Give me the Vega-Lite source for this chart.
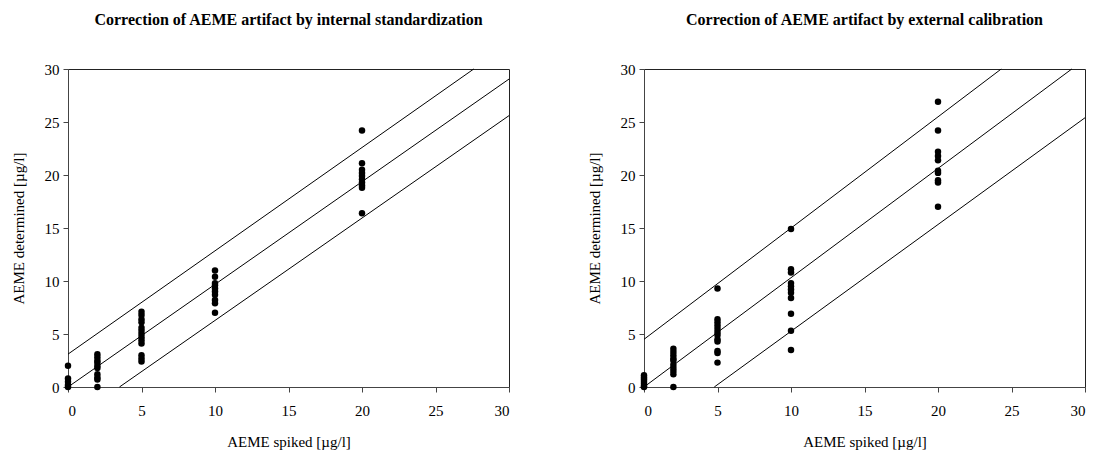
{
  "$schema": "https://vega.github.io/schema/vega-lite/v6.json",
  "background": "white",
  "padding": {"left": 10, "top": 11, "right": 8, "bottom": 4},
  "spacing": 74,
  "config": {
    "font": "Liberation Serif",
    "view": {"stroke": "#222", "strokeWidth": 1},
    "axis": {
      "grid": false,
      "domainColor": "#444",
      "tickColor": "#444",
      "tickSize": 5,
      "labelFont": "Liberation Serif",
      "labelFontSize": 15,
      "labelColor": "black",
      "titleFont": "Liberation Serif",
      "titleFontSize": 15,
      "titleFontWeight": "normal",
      "titleColor": "black"
    },
    "title": {"font": "Liberation Serif", "fontSize": 16, "fontWeight": "bold", "color": "black", "offset": 34}
  },
  "datasets": {
    "points": [
      {"panel": "internal", "spiked": 0, "determined": 2.0},
      {"panel": "internal", "spiked": 0, "determined": 0.8},
      {"panel": "internal", "spiked": 0, "determined": 0.5},
      {"panel": "internal", "spiked": 0, "determined": 0.2},
      {"panel": "internal", "spiked": 0, "determined": 0.0},
      {"panel": "internal", "spiked": 2, "determined": 3.1},
      {"panel": "internal", "spiked": 2, "determined": 2.8},
      {"panel": "internal", "spiked": 2, "determined": 2.5},
      {"panel": "internal", "spiked": 2, "determined": 2.3},
      {"panel": "internal", "spiked": 2, "determined": 2.0},
      {"panel": "internal", "spiked": 2, "determined": 1.8},
      {"panel": "internal", "spiked": 2, "determined": 1.2},
      {"panel": "internal", "spiked": 2, "determined": 0.9},
      {"panel": "internal", "spiked": 2, "determined": 0.7},
      {"panel": "internal", "spiked": 2, "determined": 0.0},
      {"panel": "internal", "spiked": 5, "determined": 7.1},
      {"panel": "internal", "spiked": 5, "determined": 6.8},
      {"panel": "internal", "spiked": 5, "determined": 6.4},
      {"panel": "internal", "spiked": 5, "determined": 6.1},
      {"panel": "internal", "spiked": 5, "determined": 5.6},
      {"panel": "internal", "spiked": 5, "determined": 5.3},
      {"panel": "internal", "spiked": 5, "determined": 5.0},
      {"panel": "internal", "spiked": 5, "determined": 4.7},
      {"panel": "internal", "spiked": 5, "determined": 4.4},
      {"panel": "internal", "spiked": 5, "determined": 4.1},
      {"panel": "internal", "spiked": 5, "determined": 3.0},
      {"panel": "internal", "spiked": 5, "determined": 2.7},
      {"panel": "internal", "spiked": 5, "determined": 2.4},
      {"panel": "internal", "spiked": 10, "determined": 11.0},
      {"panel": "internal", "spiked": 10, "determined": 10.4},
      {"panel": "internal", "spiked": 10, "determined": 9.8},
      {"panel": "internal", "spiked": 10, "determined": 9.6},
      {"panel": "internal", "spiked": 10, "determined": 9.3},
      {"panel": "internal", "spiked": 10, "determined": 9.0},
      {"panel": "internal", "spiked": 10, "determined": 8.7},
      {"panel": "internal", "spiked": 10, "determined": 8.2},
      {"panel": "internal", "spiked": 10, "determined": 7.9},
      {"panel": "internal", "spiked": 10, "determined": 7.0},
      {"panel": "internal", "spiked": 20, "determined": 24.2},
      {"panel": "internal", "spiked": 20, "determined": 21.1},
      {"panel": "internal", "spiked": 20, "determined": 20.5},
      {"panel": "internal", "spiked": 20, "determined": 20.2},
      {"panel": "internal", "spiked": 20, "determined": 19.9},
      {"panel": "internal", "spiked": 20, "determined": 19.6},
      {"panel": "internal", "spiked": 20, "determined": 19.3},
      {"panel": "internal", "spiked": 20, "determined": 19.0},
      {"panel": "internal", "spiked": 20, "determined": 18.8},
      {"panel": "internal", "spiked": 20, "determined": 16.4},
      {"panel": "external", "spiked": 0, "determined": 1.1},
      {"panel": "external", "spiked": 0, "determined": 0.9},
      {"panel": "external", "spiked": 0, "determined": 0.7},
      {"panel": "external", "spiked": 0, "determined": 0.5},
      {"panel": "external", "spiked": 0, "determined": 0.3},
      {"panel": "external", "spiked": 0, "determined": 0.1},
      {"panel": "external", "spiked": 0, "determined": 0.0},
      {"panel": "external", "spiked": 2, "determined": 3.6},
      {"panel": "external", "spiked": 2, "determined": 3.3},
      {"panel": "external", "spiked": 2, "determined": 3.0},
      {"panel": "external", "spiked": 2, "determined": 2.7},
      {"panel": "external", "spiked": 2, "determined": 2.5},
      {"panel": "external", "spiked": 2, "determined": 2.1},
      {"panel": "external", "spiked": 2, "determined": 1.8},
      {"panel": "external", "spiked": 2, "determined": 1.5},
      {"panel": "external", "spiked": 2, "determined": 1.2},
      {"panel": "external", "spiked": 2, "determined": 0.0},
      {"panel": "external", "spiked": 5, "determined": 9.3},
      {"panel": "external", "spiked": 5, "determined": 6.4},
      {"panel": "external", "spiked": 5, "determined": 6.1},
      {"panel": "external", "spiked": 5, "determined": 5.8},
      {"panel": "external", "spiked": 5, "determined": 5.5},
      {"panel": "external", "spiked": 5, "determined": 5.2},
      {"panel": "external", "spiked": 5, "determined": 4.9},
      {"panel": "external", "spiked": 5, "determined": 4.5},
      {"panel": "external", "spiked": 5, "determined": 4.3},
      {"panel": "external", "spiked": 5, "determined": 3.4},
      {"panel": "external", "spiked": 5, "determined": 3.2},
      {"panel": "external", "spiked": 5, "determined": 2.3},
      {"panel": "external", "spiked": 10, "determined": 14.9},
      {"panel": "external", "spiked": 10, "determined": 11.1},
      {"panel": "external", "spiked": 10, "determined": 10.8},
      {"panel": "external", "spiked": 10, "determined": 9.8},
      {"panel": "external", "spiked": 10, "determined": 9.5},
      {"panel": "external", "spiked": 10, "determined": 9.2},
      {"panel": "external", "spiked": 10, "determined": 8.9},
      {"panel": "external", "spiked": 10, "determined": 8.4},
      {"panel": "external", "spiked": 10, "determined": 6.9},
      {"panel": "external", "spiked": 10, "determined": 5.3},
      {"panel": "external", "spiked": 10, "determined": 3.5},
      {"panel": "external", "spiked": 20, "determined": 26.9},
      {"panel": "external", "spiked": 20, "determined": 24.2},
      {"panel": "external", "spiked": 20, "determined": 22.2},
      {"panel": "external", "spiked": 20, "determined": 21.8},
      {"panel": "external", "spiked": 20, "determined": 21.4},
      {"panel": "external", "spiked": 20, "determined": 20.4},
      {"panel": "external", "spiked": 20, "determined": 20.2},
      {"panel": "external", "spiked": 20, "determined": 19.5},
      {"panel": "external", "spiked": 20, "determined": 19.3},
      {"panel": "external", "spiked": 20, "determined": 17.0}
    ],
    "lines": [
      {"panel": "internal", "line": "upper", "spiked": 0, "determined": 3.1},
      {"panel": "internal", "line": "upper", "spiked": 27.6, "determined": 30},
      {"panel": "internal", "line": "middle", "spiked": 0, "determined": 0},
      {"panel": "internal", "line": "middle", "spiked": 30, "determined": 29.05},
      {"panel": "internal", "line": "lower", "spiked": 3.5, "determined": 0},
      {"panel": "internal", "line": "lower", "spiked": 30, "determined": 25.6},
      {"panel": "external", "line": "upper", "spiked": 0, "determined": 4.5},
      {"panel": "external", "line": "upper", "spiked": 24.3, "determined": 30},
      {"panel": "external", "line": "middle", "spiked": 0, "determined": 0},
      {"panel": "external", "line": "middle", "spiked": 29.1, "determined": 30},
      {"panel": "external", "line": "lower", "spiked": 4.78, "determined": 0},
      {"panel": "external", "line": "lower", "spiked": 30, "determined": 25.4}
    ]
  },
  "hconcat": [
    {
      "width": 441,
      "height": 318,
      "title": "Correction of AEME artifact by internal standardization",
      "layer": [
        {
          "data": {"name": "lines"},
          "transform": [{"filter": "datum.panel === 'internal'"}],
          "mark": {"type": "line", "color": "black", "strokeWidth": 1},
          "encoding": {
            "x": {"field": "spiked", "type": "quantitative", "scale": {"domain": [0, 30], "nice": false}, "axis": {"values": [0, 5, 10, 15, 20, 25, 30], "title": "AEME spiked [µg/l]", "labelPadding": 11, "titlePadding": 16}},
            "y": {"field": "determined", "type": "quantitative", "scale": {"domain": [0, 30], "nice": false}, "axis": {"values": [0, 5, 10, 15, 20, 25, 30], "title": "AEME determined [µg/l]", "labelPadding": 4, "titlePadding": 18}},
            "detail": {"field": "line"}
          }
        },
        {
          "data": {"name": "points"},
          "transform": [{"filter": "datum.panel === 'internal'"}],
          "mark": {"type": "circle", "color": "black", "opacity": 1, "size": 42},
          "encoding": {
            "x": {"field": "spiked", "type": "quantitative"},
            "y": {"field": "determined", "type": "quantitative"}
          }
        }
      ]
    },
    {
      "width": 441,
      "height": 318,
      "title": "Correction of AEME artifact by external calibration",
      "layer": [
        {
          "data": {"name": "lines"},
          "transform": [{"filter": "datum.panel === 'external'"}],
          "mark": {"type": "line", "color": "black", "strokeWidth": 1},
          "encoding": {
            "x": {"field": "spiked", "type": "quantitative", "scale": {"domain": [0, 30], "nice": false}, "axis": {"values": [0, 5, 10, 15, 20, 25, 30], "title": "AEME spiked [µg/l]", "labelPadding": 11, "titlePadding": 16}},
            "y": {"field": "determined", "type": "quantitative", "scale": {"domain": [0, 30], "nice": false}, "axis": {"values": [0, 5, 10, 15, 20, 25, 30], "title": "AEME determined [µg/l]", "labelPadding": 4, "titlePadding": 18}},
            "detail": {"field": "line"}
          }
        },
        {
          "data": {"name": "points"},
          "transform": [{"filter": "datum.panel === 'external'"}],
          "mark": {"type": "circle", "color": "black", "opacity": 1, "size": 42},
          "encoding": {
            "x": {"field": "spiked", "type": "quantitative"},
            "y": {"field": "determined", "type": "quantitative"}
          }
        }
      ]
    }
  ]
}
